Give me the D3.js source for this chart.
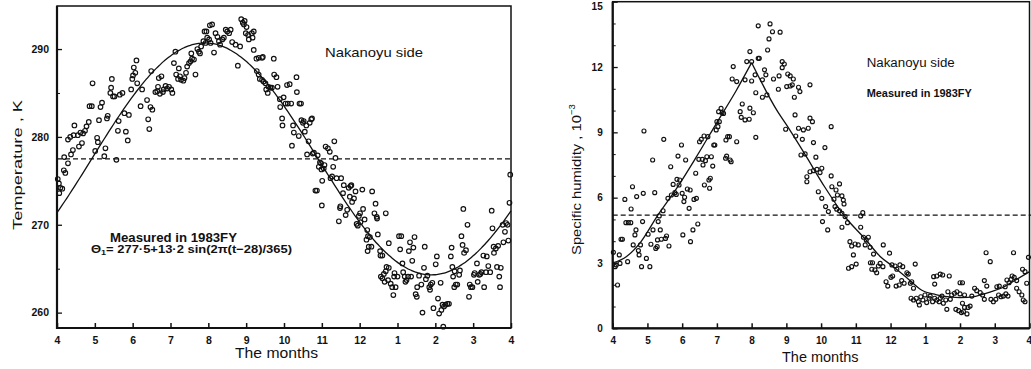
<!DOCTYPE html>
<html><head><meta charset="utf-8">
<script src="https://cdn.jsdelivr.net/npm/d3@7"></script>
<style>
body{margin:0;background:#fff}
svg{display:block}
text{fill:#111}
</style>
</head><body>
<svg id="c" width="1031" height="369"></svg>
<script>
// ---------- data (month offset from 1 April, value) ----------
const monthLabels = ["4","5","6","7","8","9","10","11","12","1","2","3","4"];
const tempTicks = [260, 270, 280, 290];
const tempMinorTicks = [265, 275, 285];
const humTicks = [0, 3, 6, 9, 12, 15];
const humMinorTicks = [1, 2, 4, 5, 7, 8, 10, 11, 13, 14];

const tempMean = 277.5, tempAmp = 13.2, tempPhaseDays = 28, tempPeriodDays = 365;
const humMean = 5.2;

const tempPoints = [
[0.02,275.2],[0.05,274.7],[0.09,274.2],[0.14,274.1],[0.06,273.6],[0.18,276.2],[0.22,275.9],[0.19,277.7],[0.29,277.0],[0.37,278.0],
[0.42,278.5],[0.29,279.7],[0.35,280.0],[0.44,280.2],[0.46,281.3],[0.55,280.2],[0.62,280.5],[0.69,280.4],[0.74,280.7],[0.78,281.2],
[0.84,281.7],[0.66,279.3],[0.58,278.9],[0.94,286.1],[0.86,283.5],[0.92,283.5],[1.01,278.4],[1.06,279.9],[1.08,279.4],[1.11,281.9],
[1.15,283.4],[1.19,283.9],[1.25,277.8],[1.28,278.7],[1.32,282.1],[1.34,282.4],[1.41,285.0],[1.43,285.6],[1.45,286.6],[1.48,284.6],
[1.52,284.6],[1.57,277.4],[1.61,280.7],[1.63,281.8],[1.66,284.8],[1.73,285.0],[1.78,282.7],[1.82,280.6],[1.87,279.6],[1.90,282.5],
[1.96,285.4],[1.99,286.6],[2.01,287.0],[2.03,287.9],[2.07,287.3],[2.10,288.7],[2.12,286.1],[2.21,283.5],[2.25,285.4],[2.38,284.2],
[2.41,282.0],[2.44,280.9],[2.47,283.4],[2.52,283.1],[2.49,287.5],[2.60,285.1],[2.65,285.2],[2.67,285.7],[2.69,286.7],[2.72,284.9],
[2.76,286.9],[2.80,285.1],[2.82,285.4],[2.87,285.8],[2.91,285.5],[2.96,285.7],[3.02,285.4],[3.05,285.0],[3.09,288.4],[3.13,289.7],
[3.15,287.1],[3.20,286.6],[3.22,287.8],[3.25,286.9],[3.28,286.5],[3.34,286.4],[3.37,286.7],[3.41,287.3],[3.44,288.0],[3.49,288.4],
[3.53,288.6],[3.55,289.5],[3.57,288.9],[3.62,288.8],[3.66,287.1],[3.71,290.0],[3.75,289.7],[3.78,289.5],[3.81,290.3],[3.87,290.9],
[3.90,292.0],[3.95,292.0],[3.93,290.7],[3.97,291.3],[4.02,291.1],[4.04,292.7],[4.06,290.7],[4.10,292.8],[4.15,289.6],[4.19,291.8],
[4.24,291.4],[4.28,290.9],[4.31,290.5],[4.37,291.1],[4.41,291.3],[4.46,292.2],[4.50,292.0],[4.55,291.8],[4.59,292.2],[4.63,290.8],
[4.72,290.5],[4.78,288.1],[4.84,290.3],[4.87,293.4],[4.91,293.0],[4.94,292.8],[4.96,293.2],[5.01,292.5],[4.99,291.8],[5.05,291.6],
[5.07,291.1],
[5.15,291.8],[5.20,292.0],[5.17,291.3],[5.20,289.9],[5.27,288.9],[5.33,289.0],[5.42,289.0],[5.44,289.1],[5.28,287.5],[5.33,287.1],
[5.36,286.6],[5.42,286.5],[5.46,286.3],[5.51,286.1],[5.53,285.4],[5.57,285.0],[5.59,285.7],[5.64,285.6],[5.68,285.6],[5.73,288.9],
[5.74,287.1],[5.80,286.8],[5.83,285.7],[5.89,284.3],[5.90,283.4],[5.95,282.1],[5.96,281.3],[5.99,284.5],[6.04,283.8],[6.08,285.9],
[6.10,283.8],[6.15,286.0],[6.19,283.8],[6.21,279.0],[6.24,281.3],[6.26,280.5],[6.33,286.8],[6.34,285.1],[6.39,280.1],[6.41,283.8],
[6.45,283.8],[6.46,281.9],[6.50,281.6],[6.52,281.8],[6.55,280.6],[6.59,281.3],[6.65,279.5],[6.68,281.6],[6.72,282.0],[6.74,282.1],
[6.61,278.0],[6.76,278.1],[6.79,278.2],[6.83,273.9],[6.87,273.9],[6.89,277.9],[6.92,276.6],[6.95,277.1],[6.98,277.0],[6.99,276.3],
[7.00,272.2],[7.01,275.0],[7.05,276.4],[7.07,276.8],[7.10,278.9],[7.16,278.7],[7.21,278.3],[7.23,275.3],[7.27,275.5],[7.30,276.6],
[7.33,279.5],[7.36,277.6],[7.39,275.3],[7.45,270.4],[7.48,271.9],[7.49,272.1],[7.51,275.3],[7.56,273.6],[7.58,274.5],[7.63,271.1],
[7.67,271.7],[7.71,274.2],[7.74,273.2],[7.76,274.4],[7.78,274.5],[7.80,272.6],[7.85,273.0],[7.89,273.8],[7.92,270.1],[7.95,269.9],
[7.98,271.0],[8.01,271.3],[8.02,270.3],[8.07,274.0],[8.09,271.8],[8.13,270.6],[8.18,268.3],[8.20,269.4],[8.22,268.7],[8.24,267.5],
[8.21,267.0],[8.27,268.6],[8.31,267.5],[8.33,273.8],[8.39,271.3],[8.42,272.4],[8.45,270.9],[8.46,270.7],[8.48,268.9],[8.54,267.0],
[8.55,266.5],[8.60,266.5],[8.69,271.3],[8.77,267.9],[8.56,264.1],[8.60,263.9],[8.64,264.4],[8.66,263.5],[8.69,264.7],[8.71,265.2],
[8.75,263.7],[8.77,265.1],[8.82,263.3],[8.86,262.9],[8.89,262.0],[8.91,264.1],[8.92,264.5],[8.95,262.9],[9.00,264.1],[9.04,268.7],
[9.07,267.2],[9.10,268.7],[9.13,265.6],[9.15,264.6],[9.19,264.1],[9.21,263.5],[9.24,263.7],[9.28,264.1],[9.30,267.0],[9.33,268.0],
[9.36,264.1],[9.39,265.9],[9.42,267.4],[9.45,268.6],[9.48,262.1],[9.51,261.8],[9.52,262.9],[9.57,264.2],[9.63,263.2],[9.66,260.0],
[9.70,265.1],[9.72,267.5],[9.75,263.8],[9.79,264.2],[9.84,262.9],[9.86,262.6],[9.88,263.2],[9.92,263.4],[9.95,260.5],[10.01,265.5],
[10.04,266.4],[10.07,261.6],[10.10,259.9],[10.14,263.4],[10.16,260.3],[10.19,260.9],[10.21,258.4],[10.23,260.7],[10.27,260.9],[10.32,261.0],
[10.36,261.0],[10.41,266.4],[10.43,267.4],[10.45,265.2],[10.47,264.1],[10.50,262.9],[10.54,263.2],[10.51,264.7],[10.58,263.2],[10.63,264.3],
[10.65,264.8],[10.69,268.7],[10.72,267.7],[10.74,271.8],[10.76,266.8],[10.81,267.1],[10.85,270.0],[10.89,261.8],[10.91,263.2],[10.94,262.9],
[10.98,262.9],[11.02,264.3],[11.04,264.5],[11.10,265.6],[11.12,263.5],[11.16,264.3],[11.19,264.4],[11.22,264.6],[11.27,266.5],[11.29,262.9],
[11.34,264.6],[11.36,266.4],[11.40,265.3],[11.45,264.6],[11.49,271.6],[11.51,269.6],[11.54,267.5],[11.55,266.8],[11.60,267.3],[11.63,265.2],
[11.66,267.6],[11.69,264.1],[11.71,262.9],[11.73,265.1],[11.78,270.0],[11.80,268.0],[11.84,269.2],[11.87,270.2],[11.91,270.0],[11.93,268.2],
[11.96,272.5],[11.98,275.7]
];

const humPoints = [
[0.02,3.49],[0.07,2.83],[0.10,2.91],[0.14,1.99],[0.19,3.37],[0.21,2.98],[0.24,4.09],[0.28,4.09],[0.35,5.92],[0.38,4.85],
[0.43,3.06],[0.45,4.85],[0.52,4.85],[0.53,5.48],[0.57,6.50],[0.59,3.83],[0.64,4.29],[0.67,4.52],[0.69,6.05],[0.74,3.57],
[0.76,3.37],[0.80,3.83],[0.83,2.83],[0.86,4.90],[0.88,6.20],[0.90,9.06],[0.97,3.21],[1.02,4.32],[1.07,2.83],[1.10,3.86],
[1.15,7.73],[1.16,4.52],[1.21,6.23],[1.24,3.67],[1.28,3.75],[1.29,4.06],[1.31,4.90],[1.34,5.16],[1.37,4.52],[1.40,4.09],
[1.45,5.40],[1.47,8.68],[1.52,4.13],[1.55,4.24],[1.59,5.97],[1.62,3.78],[1.67,7.42],[1.69,6.12],[1.74,6.61],[1.79,6.23],
[1.83,6.15],[1.85,6.84],[1.88,7.91],[1.91,6.58],[1.93,6.81],[1.98,8.42],[2.00,6.20],[2.02,4.29],[2.05,5.82],[2.07,6.02],
[2.10,7.73],[2.15,6.40],[2.20,5.51],[2.23,6.35],[2.24,3.98],[2.31,4.52],[2.34,5.92],[2.39,7.12],[2.41,5.97],[2.45,4.79],
[2.48,7.76],[2.50,8.57],[2.55,8.68],[2.58,7.76],[2.60,7.50],[2.63,8.83],[2.64,6.58],[2.67,7.70],[2.71,7.88],[2.74,8.80],
[2.77,6.81],[2.79,6.43],[2.81,6.89],[2.84,7.88],[2.88,7.45],[2.91,8.42],[2.94,8.42],[2.98,9.11],[3.00,9.49],[3.03,9.26],
[3.05,9.95],[3.07,9.49],[3.12,10.10],[3.15,9.90],[3.19,9.87],[3.25,7.81],[3.26,8.65],[3.28,7.91],[3.31,8.80],[3.36,8.80],
[3.38,7.73],[3.41,7.65],
[3.44,11.45],[3.47,12.02],[3.57,11.33],[3.57,8.57],[3.67,9.95],[3.70,9.69],[3.73,10.30],[3.81,11.41],[3.81,9.57],[3.86,12.25],
[3.93,9.60],[3.95,12.71],[3.95,10.11],[4.00,12.25],[4.00,11.36],[4.05,9.90],[4.10,11.64],[4.12,10.82],[4.12,8.77],[4.19,13.89],
[4.19,12.40],[4.22,12.40],[4.31,11.41],[4.31,10.61],[4.37,11.87],[4.41,11.64],[4.44,10.72],[4.46,12.78],[4.50,13.29],[4.53,13.98],
[4.60,13.62],[4.63,11.45],[4.77,10.98],[4.79,11.59],[4.82,13.60],[4.88,12.25],[4.88,11.97],[4.94,12.14],[4.98,9.14],[5.01,11.10],
[5.04,11.68],[5.11,11.59],[5.11,11.13],[5.17,11.18],[5.20,11.45],[5.23,10.61],[5.25,9.80],[5.27,8.83],[5.35,11.07],[5.35,9.19],
[5.39,10.87],[5.42,7.96],[5.46,8.68],[5.49,9.11],[5.54,8.01],[5.59,6.96],[5.59,6.73],[5.63,9.19],[5.68,11.18],[5.68,9.65],
[5.68,7.19],[5.75,9.49],[5.78,8.53],[5.78,7.24],[5.85,7.86],[5.88,7.30],[5.92,6.27],[5.97,7.15],[6.02,7.35],[6.02,5.97],
[6.04,4.90],[6.11,8.30],[6.13,5.59],[6.19,4.52],[6.21,5.36],[6.29,9.26],[6.29,7.00],[6.31,6.50],
[6.43,6.35],[6.53,6.63],[6.47,6.12],[6.60,6.08],[6.64,5.89],[6.66,5.71],[6.37,5.93],[6.40,5.59],[6.45,5.47],[6.53,5.40],
[6.60,5.28],[6.69,5.13],[6.76,4.85],[6.60,4.64],[7.14,4.64],[7.14,5.16],[7.20,5.31],[6.83,3.98],[6.88,3.78],[6.98,3.87],
[7.07,3.83],[6.93,3.37],[7.22,4.18],[7.30,4.06],[7.36,4.18],[7.27,3.83],[7.41,3.72],[7.79,3.83],[7.97,3.45],[7.51,3.41],
[7.42,3.01],[7.48,3.01],[6.79,2.76],[6.88,2.83],[7.01,2.95],[7.46,2.71],[7.55,2.68],[7.65,2.86],[7.70,2.98],[7.60,2.55],
[7.78,2.83],[8.04,2.91],[8.13,2.86],[8.18,2.71],[8.27,2.91],[8.35,2.83],[8.47,2.55],[8.51,2.49],[8.71,2.95],[7.87,2.14],
[7.92,1.94],[8.01,2.34],[8.06,2.40],[8.16,1.94],[8.25,1.99],[8.32,2.19],[8.39,2.07],[8.57,2.07],[8.61,2.14],[8.66,1.84],
[8.59,1.38],[8.66,1.30],[8.74,1.38],[8.80,1.22],[8.83,1.07],[8.87,1.45],[8.93,1.30],[8.99,1.53],[9.04,1.18],[9.11,1.38],
[9.14,1.48],[9.21,1.22],[9.27,1.38],[9.33,1.30],[9.40,1.22],[9.43,1.38],[9.48,1.48],[9.52,1.15],[9.62,0.87],[9.59,1.30],
[9.65,1.68],[9.72,1.33],[9.76,1.53],[9.84,1.61],[9.91,1.68],[10.00,1.58],[10.13,1.53],[9.24,2.37],[9.33,2.40],[9.43,2.49],
[9.50,2.45],[9.69,2.40],[9.27,2.03],[10.00,2.09],[10.07,2.09],[9.88,0.87],[9.96,0.81],[10.04,0.72],[10.10,0.76],[10.20,0.66],
[10.13,0.96],[10.23,0.96],[10.29,1.02],[10.07,1.15],[10.34,1.48],[10.42,1.84],[10.48,1.73],[10.58,1.64],[10.65,1.53],[10.70,2.19],
[10.77,1.94],[10.75,3.47],[10.87,3.06],[10.70,1.33],[10.89,1.33],[10.96,1.22],[11.03,1.33],[11.11,1.53],[11.18,1.45],[11.25,1.48],
[11.32,1.58],[11.38,1.48],[11.06,1.91],[11.13,1.94],[11.30,1.91],[11.35,2.22],[11.41,2.09],[11.47,2.25],[11.50,2.40],[11.56,2.34],
[11.63,2.19],[11.54,3.47],[11.63,1.84],[11.70,1.68],[11.78,1.53],[11.82,1.30],[11.87,1.22],[11.80,2.71],[11.87,2.60],[11.97,3.26],
[11.92,2.07]
];

// fitted curve of specific humidity (rising and falling branches)
const humFitRise = [[0,3.0],[0.4,3.3],[0.8,3.95],[1.3,5.2],[1.85,6.45],[2.4,7.85],[3.0,9.45],[3.55,10.9],[4.0,12.2]];
const humFitFall = [[4.0,12.2],[4.75,9.95],[5.0,9.35],[5.55,7.95],[6.1,6.5],[6.7,5.1],[7.27,4.1],[7.7,3.3],[8.08,2.83],
  [8.45,2.35],[8.9,1.75],[9.3,1.55],[9.7,1.44],[10.0,1.41],[10.45,1.47],[10.9,1.68],[11.2,1.85],[11.6,2.22],[12.0,2.6]];

// ---------- drawing ----------
const svg = d3.select("#c");
svg.append("rect").attr("width",1031).attr("height",369).attr("fill","#fff");
const font = "'Liberation Sans', Arial, sans-serif";

function panel(o){
  const g = svg.append("g");
  const x = d3.scaleLinear().domain([0,12]).range(o.xr);
  const y = d3.scaleLinear().domain(o.yd).range(o.yr);
  g.append("line").attr("x1",o.xr[0]).attr("x2",o.dashEnd).attr("y1",y(o.mean)).attr("y2",y(o.mean))
    .attr("stroke","#111").attr("stroke-width",1.2).attr("stroke-dasharray","5,3");
  g.append("g").selectAll("circle").data(o.points).join("circle")
    .attr("cx",d=>x(d[0])).attr("cy",d=>y(d[1])).attr("r",o.r)
    .attr("fill","none").attr("stroke","#111").attr("stroke-width",1.15);
  o.curves.forEach(c=>{
    g.append("path").attr("d", d3.line().x(d=>x(d[0])).y(d=>y(d[1])).curve(d3.curveMonotoneX)(c))
      .attr("fill","none").attr("stroke","#111").attr("stroke-width",1.3);
  });
  const xa = d3.axisBottom(x).tickValues(d3.range(0,13)).tickFormat((d,i)=>monthLabels[i])
    .tickSize(-5).tickPadding(9);
  const gx = g.append("g").attr("transform",`translate(0,${o.yr[0]})`).call(xa);
  gx.select(".domain").remove();
  gx.selectAll("line").attr("stroke","#111").attr("stroke-width",1.5);
  gx.selectAll("text").attr("font-family",font).attr("font-weight","bold").attr("font-size",o.tickFont).attr("fill","#111");
  if (o.lastTickEnd) gx.selectAll("text").filter((d,i)=>i===12).attr("text-anchor","end").attr("dx",2);
  const ya = d3.axisLeft(y).tickValues(o.yt).tickSize(-5).tickPadding(o.yPad).tickFormat(d3.format("d"));
  const gy = g.append("g").attr("transform",`translate(${o.xr[0]},0)`).call(ya);
  gy.select(".domain").remove();
  gy.selectAll("line").attr("stroke","#111").attr("stroke-width",1.3);
  gy.selectAll("text").attr("font-family",font).attr("font-weight","bold").attr("font-size",o.tickFont).attr("fill","#111");
  if (o.topTickDown) gy.selectAll("text").filter(d=>d===o.yt[o.yt.length-1]).attr("dy","0.75em");
  const ym = d3.axisLeft(y).tickValues(o.ytm).tickSize(-3).tickFormat("");
  const gym = g.append("g").attr("transform",`translate(${o.xr[0]},0)`).call(ym);
  gym.select(".domain").remove();
  gym.selectAll("line").attr("stroke","#111").attr("stroke-width",1);
  g.append("rect").attr("x",o.xr[0]).attr("y",o.yr[1]).attr("width",o.xr[1]-o.xr[0]).attr("height",o.yr[0]-o.yr[1])
    .attr("fill","none").attr("stroke","#111").attr("stroke-width",1.5);
  g.append("line").attr("x1",o.xr[0]).attr("x2",o.xr[0]).attr("y1",o.yr[1]).attr("y2",o.yr[0]+1)
    .attr("stroke","#111").attr("stroke-width",2.2);
  g.append("line").attr("x1",o.xr[0]).attr("x2",o.xr[1]).attr("y1",o.yr[0]).attr("y2",o.yr[0])
    .attr("stroke","#111").attr("stroke-width",2.2);
  return {x,y};
}

// temperature fit curve from the formula printed on the figure
const tempFit = d3.range(0, 367, 2).map(day =>
  [day/30.5, tempMean + tempAmp*Math.sin(2*Math.PI*(day - tempPhaseDays)/tempPeriodDays)]);

panel({xr:[57,511], yr:[328,6], yd:[258.25,294.9], mean:tempMean, dashEnd:511, points:tempPoints, r:2.3,
  curves:[tempFit], yt:tempTicks, ytm:tempMinorTicks, tickFont:10.5, yPad:8});
panel({xr:[612.7,1029.5], yr:[328.3,1.7], yd:[0,15], mean:humMean, dashEnd:1031, points:humPoints, r:2.0,
  curves:[humFitRise, humFitFall], yt:humTicks, ytm:humMinorTicks, tickFont:10, yPad:10,
  lastTickEnd:true, topTickDown:true});

function label(txt, x, y, size, w, opts={}){
  const t = svg.append("text").attr("x",x).attr("y",y).attr("font-family",opts.family||font)
    .attr("font-size",size).attr("font-weight",opts.weight||"normal").text(txt);
  if (w) t.attr("textLength",w).attr("lengthAdjust","spacingAndGlyphs");
  return t;
}
// left panel texts
label("Nakanoyu side", 325, 57, 13, 98);
label("Measured in 1983FY", 110, 241.5, 12, 127, {weight:"bold"});
const f = svg.append("text").attr("x",91).attr("y",253).attr("font-family",font).attr("font-size",11.5)
  .attr("font-weight","bold").attr("textLength",201).attr("lengthAdjust","spacingAndGlyphs");
f.append("tspan").text("Θ");
f.append("tspan").attr("font-size",8).attr("dy",2).text("1");
f.append("tspan").attr("dy",-2).text("= 277·5+13·2 sin(2π(t−28)/365)");
label("The months", 235, 358, 14.5, 83);
svg.append("text").attr("transform","translate(21.5,230) rotate(-90)").attr("font-family",font)
  .attr("font-size",13.5).attr("textLength",130).attr("lengthAdjust","spacingAndGlyphs").text("Temperature ,   K");

// right panel texts
label("Nakanoyu side", 866.7, 67, 12, 88);
label("Measured in 1983FY", 866.7, 97, 10.5, 105, {weight:"bold"});
label("The months", 782, 362, 14, 76.5);
const yl = svg.append("text").attr("transform","translate(581,255) rotate(-90)").attr("font-family",font)
  .attr("font-size",13.5);
yl.append("tspan").attr("textLength",140).attr("lengthAdjust","spacingAndGlyphs").text("Specific humidity ,   10");
yl.append("tspan").attr("font-size",9.5).attr("dy",-6).text("−3");
</script>
</body></html>
